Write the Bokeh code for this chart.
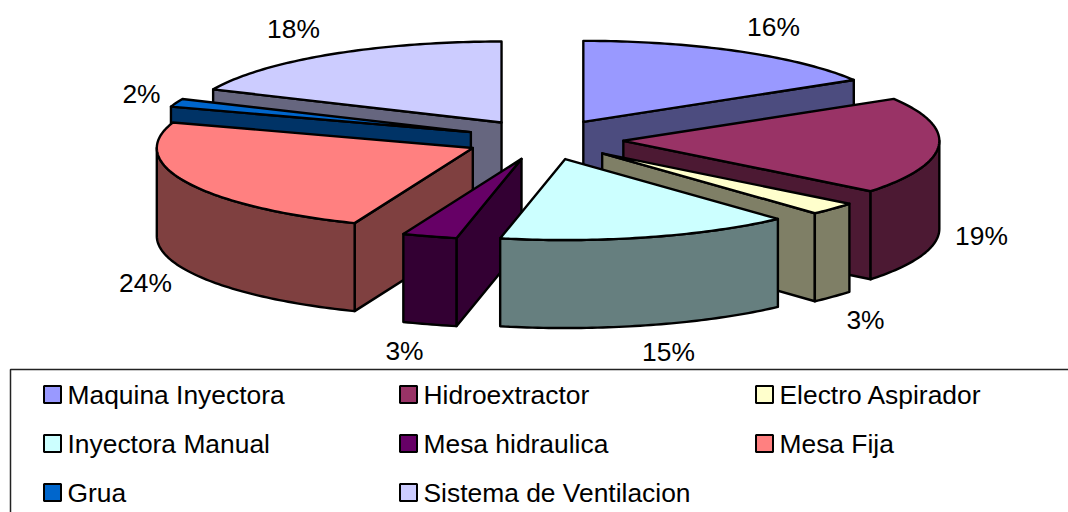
import math
from bokeh.plotting import figure
from bokeh.models import ColumnDataSource
from bokeh.core.properties import value
from bokeh.embed import file_html
from bokeh.resources import INLINE

# --- data -------------------------------------------------------------
categories = ["Maquina Inyectora", "Hidroextractor", "Electro Aspirador", "Inyectora Manual",
              "Mesa hidraulica", "Mesa Fija", "Grua", "Sistema de Ventilacion"]
shares = [16.35, 19.35, 2.55, 15.05, 2.8, 24.0, 1.6, 18.3]
top_colors = ["#9999FF", "#993366", "#FFFFCC", "#CCFFFF", "#660066", "#FF8080", "#0066CC", "#CCCCFF"]
side_colors = ["#4C4C7F", "#4C1933", "#7F7F66", "#667F7F", "#330033", "#7F4040", "#003366", "#66667F"]

# --- layout (reference pixels) ----------------------------------------
CX, CY, RX, RY, DEPTH, EXPLODE = 544, 139, 316, 81, 88, 0.25
paint_order = [0, 7, 6, 1, 2, 5, 4, 3]
label_xy = [(773, 26), (981, 235), (865, 319), (668, 351), (404, 350), (145, 282), (141, 93), (293, 28)]
FONT = value("Liberation Sans")
FONT_SIZE = "26.4px"

p = figure(width=1068, height=512, x_range=(0, 1068), y_range=(512, 0),
           output_backend="svg", toolbar_location=None, min_border=0,
           x_axis_type=None, y_axis_type=None, outline_line_color=None)
p.grid.visible = False
p.background_fill_color = "white"
p.border_fill_color = "white"

total = sum(shares)
def pt(ax, ay, deg, dz=0):
    t = math.radians(deg)
    return ax + RX * math.sin(t), ay - RY * math.cos(t) + dz

def arc(ax, ay, a, b, dz=0):
    n = max(2, int(abs(b - a)) + 2)
    return [pt(ax, ay, a + (b - a) * i / (n - 1), dz) for i in range(n)]

bounds = []
acc = 0.0
for s in shares:
    bounds.append((acc / total * 360, (acc + s) / total * 360))
    acc += s

xs, ys, fills = [], [], []
def add(points, color):
    xs.append([q[0] for q in points])
    ys.append([q[1] for q in points])
    fills.append(color)

for i in paint_order:
    a, b = bounds[i]
    mid = math.radians((a + b) / 2)
    ax = CX + EXPLODE * RX * math.sin(mid)
    ay = CY - EXPLODE * RY * math.cos(mid)
    apex = (ax, ay)
    apex_low = (ax, ay + DEPTH)
    if math.sin(math.radians(a)) < 0:
        add([apex, pt(ax, ay, a), pt(ax, ay, a, DEPTH), apex_low], side_colors[i])
    if math.sin(math.radians(b)) > 1e-6:
        add([apex, pt(ax, ay, b), pt(ax, ay, b, DEPTH), apex_low], side_colors[i])
    lo, hi = max(a, 90), min(b, 270)
    if lo < hi:
        add(arc(ax, ay, lo, hi) + arc(ax, ay, hi, lo, DEPTH), side_colors[i])
    add([apex] + arc(ax, ay, a, b), top_colors[i])

p.patches("xs", "ys", source=ColumnDataSource(dict(xs=xs, ys=ys, fill=fills)),
          fill_color="fill", line_color="black", line_width=2.4, line_join="round")

# percentage labels
p.text(x=[q[0] for q in label_xy], y=[q[1] for q in label_xy],
       text=[f"{round(s)}%" for s in shares],
       text_font=FONT, text_font_size=FONT_SIZE, text_color="black",
       text_align="center", text_baseline="middle")

# legend frame (open at the right and bottom edges of the picture)
p.line([10, 10, 1068], [512, 369, 369], line_color="#222222", line_width=1.5)

# legend entries
col_swatch, col_text = [52, 408, 764], [67, 423, 779]
row_y = [394, 443, 492]
sx, sy, tx, ty = [], [], [], []
for k in range(len(categories)):
    c, r = k % 3, k // 3
    sx.append(col_swatch[c]); sy.append(row_y[r])
    tx.append(col_text[c]); ty.append(row_y[r])
p.rect(sx, sy, width=17, height=17, fill_color=top_colors, line_color="black", line_width=2)
p.text(tx, ty, text=categories, text_font=FONT, text_font_size=FONT_SIZE, text_color="black",
       text_align="left", text_baseline="middle")

open("out.html", "w").write(file_html(p, INLINE))
